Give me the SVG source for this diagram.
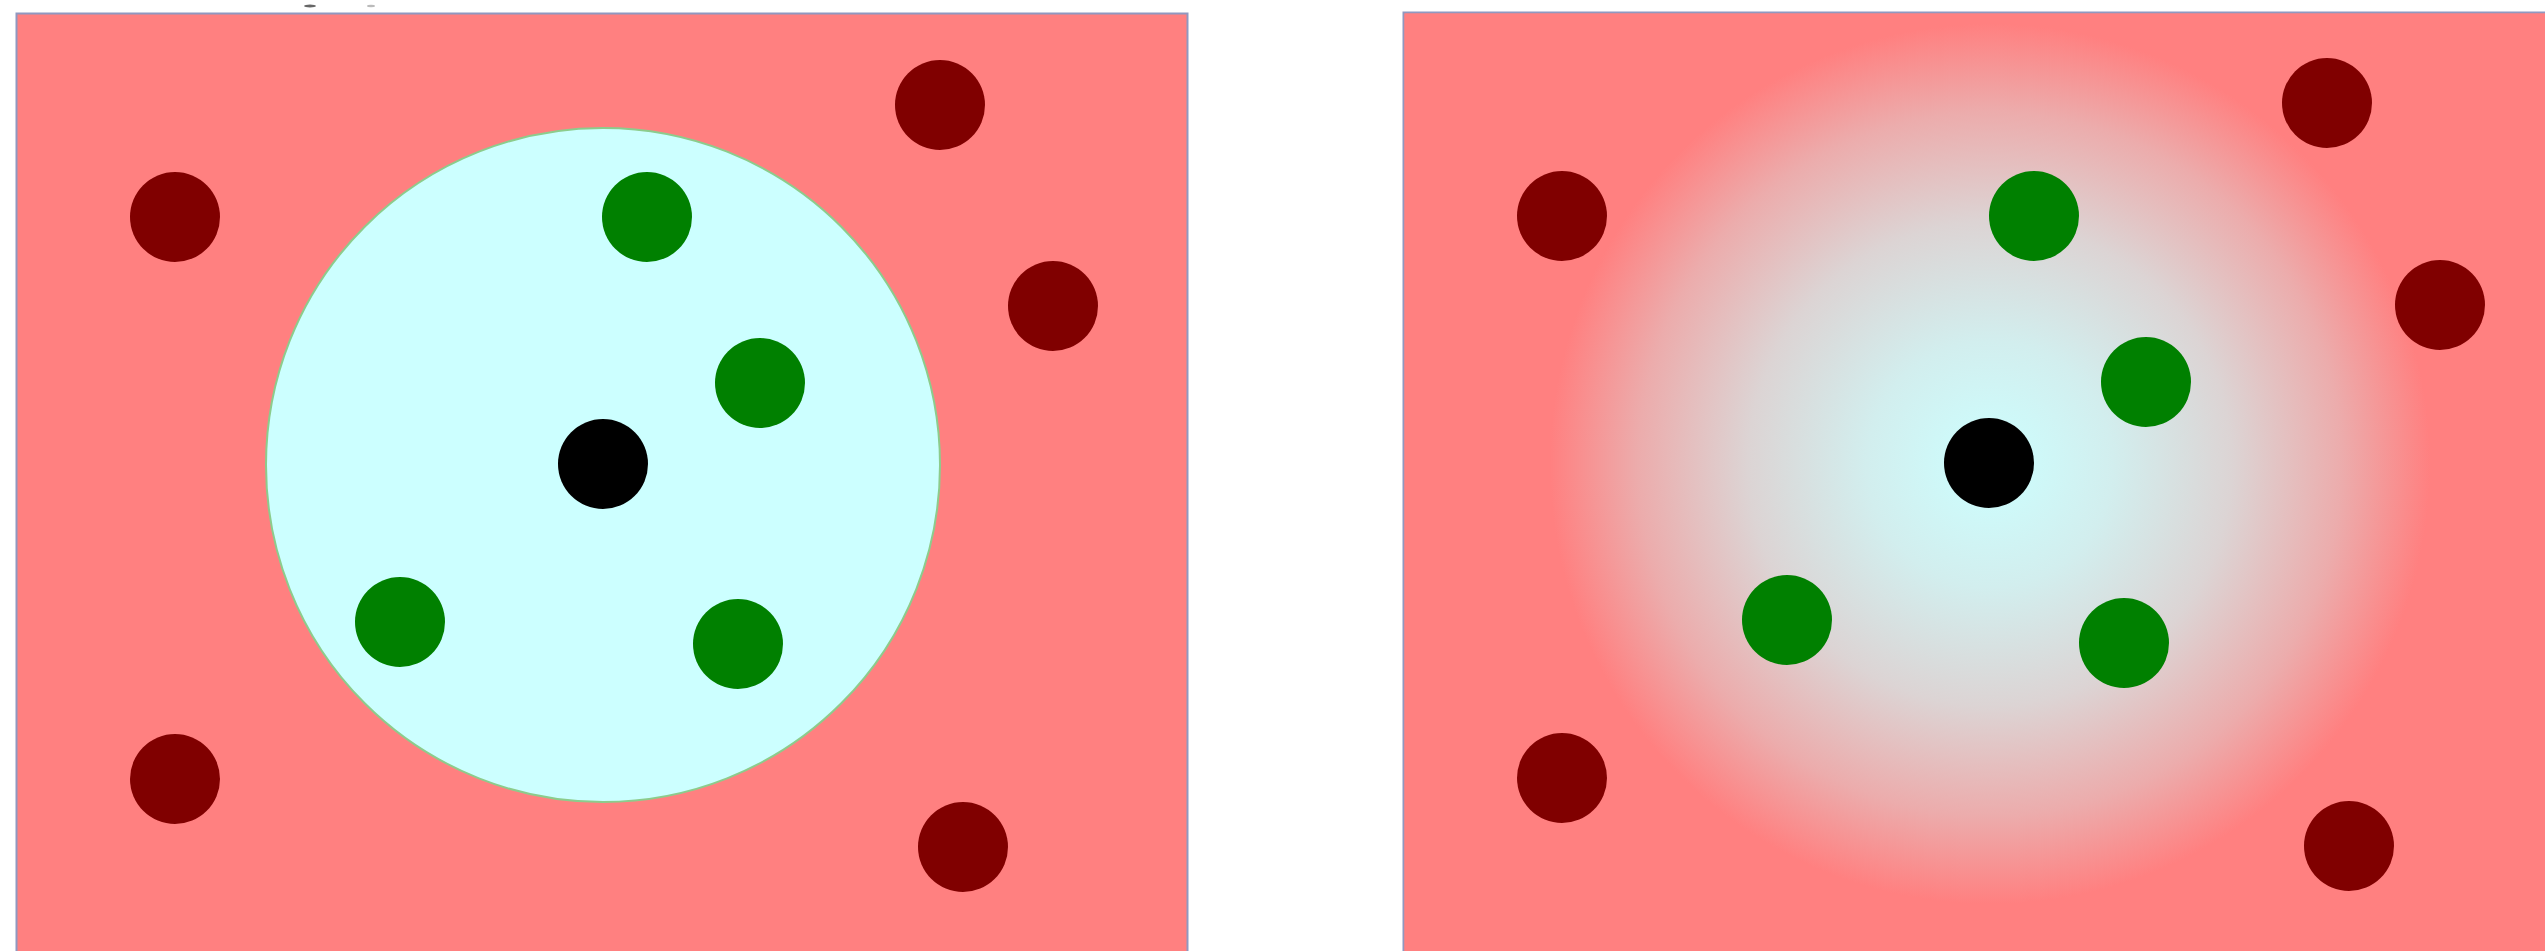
<svg xmlns="http://www.w3.org/2000/svg" width="2545" height="951" viewBox="0 0 2545 951">
  <defs>
    <radialGradient id="fade" gradientUnits="userSpaceOnUse" cx="1990" cy="464" r="440">
      <stop offset="0" stop-color="#ccffff"/>
      <stop offset="0.28" stop-color="#d2eeee"/>
      <stop offset="0.55" stop-color="#dcd4d4"/>
      <stop offset="0.8" stop-color="#ecacac"/>
      <stop offset="1" stop-color="#ff8080"/>
    </radialGradient>
  </defs>
  <style>
    .panel { fill: #ff8080; stroke: #9098c0; stroke-width: 2; }
    .out { fill: #800000; }
    .in { fill: #008000; }
    .core { fill: #000000; }
    .zone { fill: #ccffff; stroke: #8ccc8c; stroke-width: 2; }
  </style>
  <rect width="2545" height="951" fill="#ffffff"/>
  <ellipse cx="310" cy="6" rx="6" ry="1.5" fill="#666666"/>
  <ellipse cx="371" cy="6" rx="4" ry="1.2" fill="#bbbbbb"/>

  <g id="left-panel">
    <rect class="panel" x="16.5" y="13.5" width="1171" height="960"/>
    <circle class="zone" cx="603" cy="465" r="337"/>
    <g id="left-outer">
      <circle class="out" cx="175" cy="217" r="45"/>
      <circle class="out" cx="940" cy="105" r="45"/>
      <circle class="out" cx="1053" cy="306" r="45"/>
      <circle class="out" cx="175" cy="779" r="45"/>
      <circle class="out" cx="963" cy="847" r="45"/>
    </g>
    <g id="left-inner">
      <circle class="in" cx="647" cy="217" r="45"/>
      <circle class="in" cx="760" cy="383" r="45"/>
      <circle class="in" cx="400" cy="622" r="45"/>
      <circle class="in" cx="738" cy="644" r="45"/>
    </g>
    <circle id="left-core" class="core" cx="603" cy="464" r="45"/>
  </g>

  <g id="right-panel">
    <rect class="panel" x="1403.5" y="12.5" width="1200" height="960"/>
    <rect x="1404.5" y="13.5" width="1200" height="960" fill="url(#fade)"/>
    <g id="right-outer">
      <circle class="out" cx="1562" cy="216" r="45"/>
      <circle class="out" cx="2327" cy="103" r="45"/>
      <circle class="out" cx="2440" cy="305" r="45"/>
      <circle class="out" cx="1562" cy="778" r="45"/>
      <circle class="out" cx="2349" cy="846" r="45"/>
    </g>
    <g id="right-inner">
      <circle class="in" cx="2034" cy="216" r="45"/>
      <circle class="in" cx="2146" cy="382" r="45"/>
      <circle class="in" cx="1787" cy="620" r="45"/>
      <circle class="in" cx="2124" cy="643" r="45"/>
    </g>
    <circle id="right-core" class="core" cx="1989" cy="463" r="45"/>
  </g>
  <g id="connectors"/>
</svg>
